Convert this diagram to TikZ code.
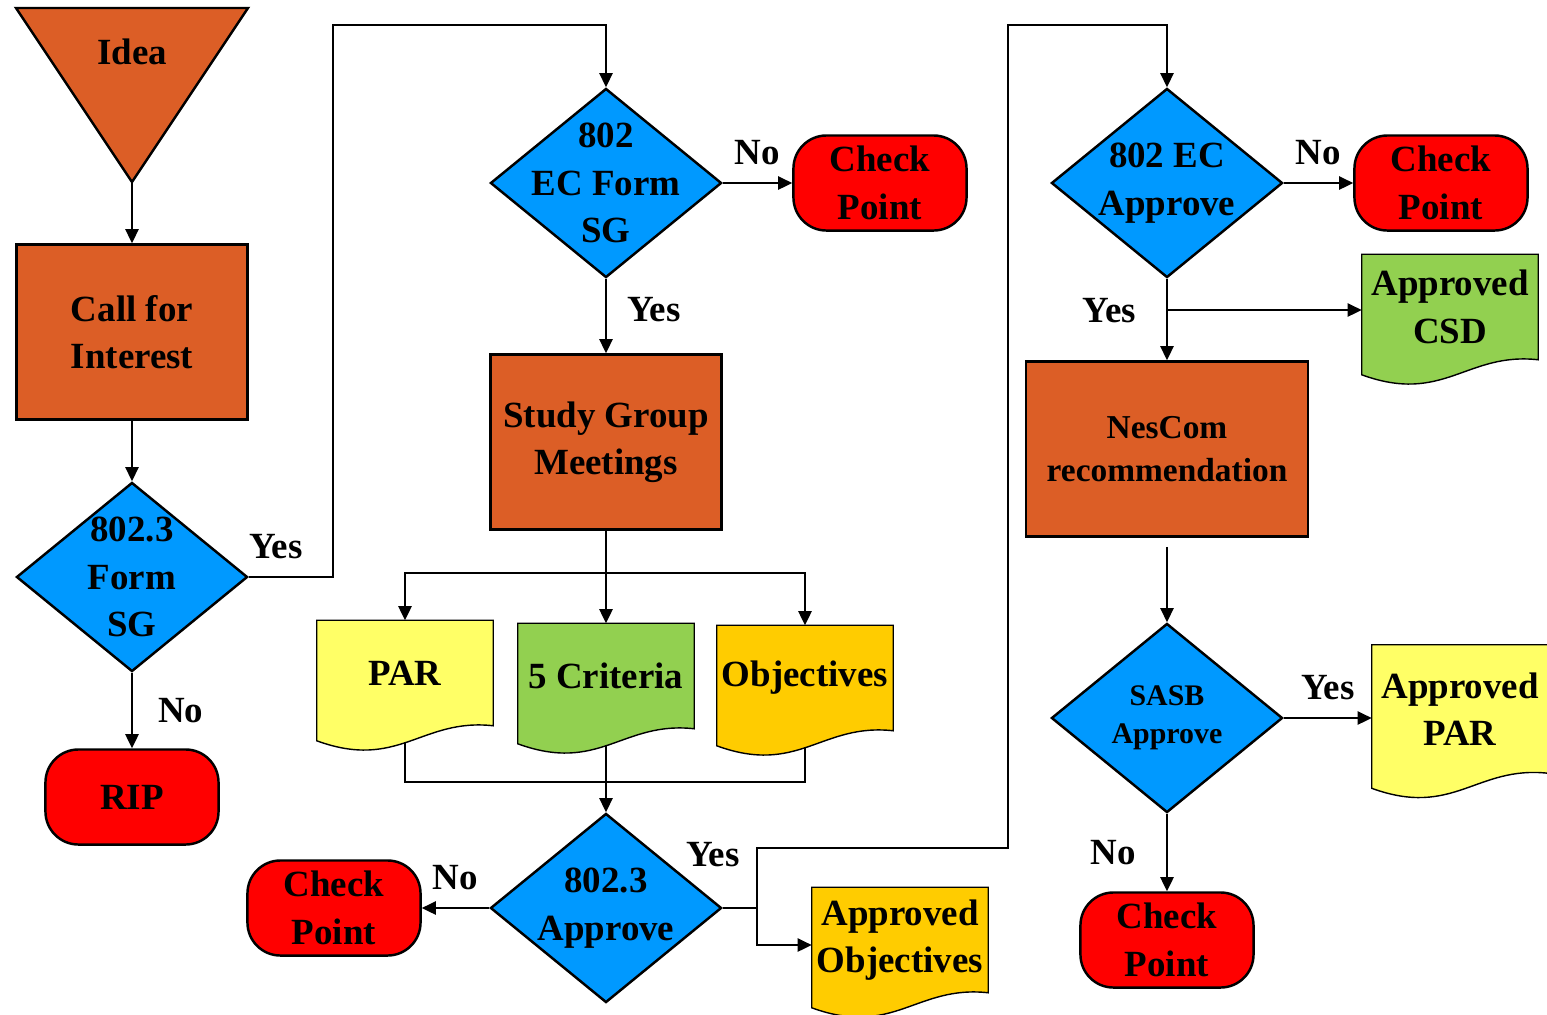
\documentclass[tikz,border=0pt]{standalone}
\usepackage{fontspec}
\setmainfont{Liberation Serif}
\usetikzlibrary{shapes.geometric,arrows.meta,backgrounds}
\definecolor{orng}{RGB}{220,94,38}
\definecolor{blu}{RGB}{0,153,255}
\definecolor{rd}{RGB}{255,0,0}
\definecolor{ylw}{RGB}{255,255,102}
\definecolor{grn}{RGB}{146,208,80}
\definecolor{gld}{RGB}{255,204,0}
\tikzset{
  txt/.style={font=\bfseries\fontsize{10.5}{13.5}\selectfont, align=center},
  proc/.style={txt, draw, fill=orng, minimum width=2.31cm, minimum height=1.75cm, inner sep=0},
  dec/.style={draw, fill=blu, diamond, minimum width=2.31cm, minimum height=1.89cm, inner sep=0},
  term/.style={txt, draw, fill=rd, rounded corners=0.33cm, minimum width=1.73cm, minimum height=0.95cm, inner sep=0},
  doc/.style={txt, minimum width=1.74cm, minimum height=1.03cm, inner sep=0},
  lbl/.style={txt, inner sep=0},
  arr/.style={-{Triangle[length=0.14cm,width=0.13cm]}},
}
\begin{document}
\begin{tikzpicture}[x=0.01cm, y=-0.01cm, line width=0.7pt]
\useasboundingbox (0,0) rectangle (1547,1014);

\draw[fill=orng] (16,8) -- (248,8) -- (132,182) coordinate (I) -- cycle;
\node[lbl] (idea) at (132,52) {Idea};
\node[proc] (cfi) at (132,332) {Call for\\Interest};
\node[dec, label={[txt]center:{802.3\\Form\\SG}}] (d1) at (132,577) {};
\node[term] (rip) at (132,797) {RIP};

\node[dec, label={[txt]center:{802\\EC Form\\SG}}] (d2) at (606,183) {};
\node[term] (cp1) at (880,183) {Check\\Point};
\node[proc] (sgm) at (606,442) {Study Group\\Meetings};
\node[doc] (par) at (405,673) {PAR};
\node[doc] (crit) at (606,676) {5 Criteria};
\node[doc] (obj) at (805,678) {Objectives};
\node[dec, label={[txt]center:{802.3\\Approve}}] (d3) at (606,908) {};
\node[term] (cp3) at (334,908) {Check\\Point};
\node[doc] (aobj) at (900,940) {Approved\\Objectives};

\node[dec, label={[txt]center:{802 EC\\Approve}}] (d4) at (1167,183) {};
\node[term] (cp2) at (1441,183) {Check\\Point};
\node[doc] (acsd) at (1450,307) {Approved\\CSD};
\node[proc, minimum width=2.82cm, font=\bfseries\fontsize{9.5}{12}\selectfont] (nes) at (1167,449) {NesCom\\recommendation};
\node[dec, label={[txt, font=\bfseries\fontsize{8.5}{10.8}\selectfont]center:{SASB\\Approve}}] (d5) at (1167,718) {};
\node[doc, minimum height=1.26cm] (apar) at (1460,709) {Approved\\PAR};
\node[term] (cp4) at (1167,940) {Check\\Point};

\begin{scope}[on background layer]
\foreach \nd/\cl in {par/ylw,crit/grn,obj/gld,aobj/gld,acsd/grn,apar/ylw}
  \draw[fill=\cl] (\nd.north west) -- (\nd.north east) -- (\nd.south east)
    .. controls +(-72,-8) and +(82,30) .. ([yshift=-0.15cm]\nd.south west) -- cycle;
\end{scope}

\coordinate (t1) at (333,25);
\coordinate (f1) at (606,573);
\coordinate (j1) at (606,782);
\coordinate (s2) at (757,908);
\coordinate (m2) at (1008,848);
\coordinate (t2) at (1008,25);
\coordinate (s3) at (1167,310);

\draw[arr] (I) -- (cfi);
\draw[arr] (cfi) -- (d1);
\draw[arr] (d1) -- node[lbl, right=0.25cm]{No} (rip);
\draw[arr] (d1.east) -| node[lbl, pos=0.16, above=0.17cm]{Yes} (t1) -| (d2.north);
\draw[arr] (d2) -- node[lbl, above=0.17cm]{No} (cp1);
\draw[arr] (d2) -- node[lbl, pos=0.42, right=0.2cm]{Yes} (sgm);
\draw (sgm.south) -- (f1);
\draw[arr] (f1) -| (par.north);
\draw[arr] (f1) -| (obj.north);
\draw[arr] (f1) -- (crit.north);
\draw ([yshift=-0.16cm]par.south) |- (j1) -| ([yshift=-0.16cm]obj.south);
\draw[arr] ([yshift=-0.16cm]crit.south) -- (d3.north);
\draw[arr] (d3) -- node[lbl, above=0.17cm]{No} (cp3);
\draw (d3.east) -- node[lbl, pos=0, above=0.4cm, xshift=-0.1cm]{Yes} (s2);
\draw[arr] (s2) |- ([yshift=-0.05cm]aobj.west);
\draw[arr] (s2) |- (m2) -- (t2) -| (d4.north);
\draw[arr] (d4) -- node[lbl, above=0.17cm]{No} (cp2);
\draw[arr] (d4) -- node[lbl, pos=0.39, left=0.3cm]{Yes} (nes);
\draw[arr] (s3) -- (s3 -| acsd.west);
\draw[arr, shorten <=0.09cm] (nes) -- (d5);
\draw[arr] (d5.east) -- node[lbl, above=0.17cm]{Yes} (d5.east -| apar.west);
\draw[arr] (d5) -- node[lbl, left=0.3cm]{No} (cp4);
\end{tikzpicture}
\end{document}
